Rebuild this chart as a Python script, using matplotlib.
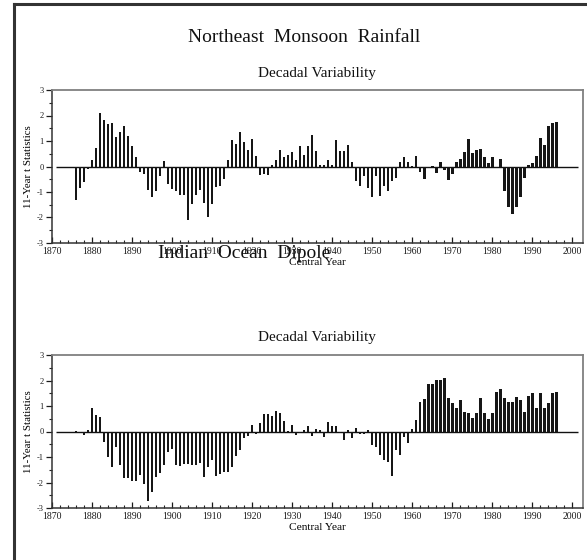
import matplotlib
matplotlib.use("Agg")
import matplotlib.pyplot as plt
from matplotlib.lines import Line2D
import numpy as np

plt.rcParams['font.family'] = ['Liberation Serif', 'DejaVu Serif']
plt.rcParams['axes.unicode_minus'] = False

# 11-year running t statistics, one value per central year (1876-1996)
years = np.arange(1876, 1997)

nem_t = [
    -1.32, -0.86, -0.60, -0.10, 0.24, 0.73, 2.09, 1.83, 1.67, 1.70,
    1.15, 1.37, 1.60, 1.20, 0.81, 0.39, -0.22, -0.31, -0.92, -1.20,
    -0.98, -0.39, 0.22, -0.68, -0.90, -0.97, -1.10, -1.10, -2.09, -1.46,
    -1.10, -0.94, -1.42, -2.00, -1.46, -0.80, -0.77, -0.50, 0.27, 1.02,
    0.88, 1.35, 0.97, 0.64, 1.06, 0.42, -0.34, -0.31, -0.34, 0.04,
    0.24, 0.64, 0.37, 0.46, 0.58, 0.24, 0.80, 0.47, 0.80, 1.23,
    0.60, 0.07, 0.07, 0.27, 0.04, 1.02, 0.60, 0.60, 0.84, 0.18,
    -0.56, -0.75, -0.38, -0.86, -1.20, -0.38, -1.15, -0.75, -0.95, -0.58,
    -0.47, 0.17, 0.37, 0.17, 0.02, 0.43, -0.22, -0.48, -0.05, 0.02,
    -0.25, 0.18, -0.14, -0.54, -0.29, 0.17, 0.30, 0.58, 1.08, 0.52,
    0.63, 0.69, 0.38, 0.12, 0.39, -0.07, 0.31, -0.98, -1.58, -1.88,
    -1.60, -1.20, -0.46, 0.04, 0.14, 0.43, 1.10, 0.86, 1.58, 1.71,
    1.76,
]

iod_t = [
    0.03, -0.02, -0.15, 0.05, 0.93, 0.63, 0.56, -0.43, -1.00, -1.40,
    -0.61, -1.33, -1.81, -1.81, -1.96, -1.96, -1.72, -2.05, -2.74, -2.39,
    -1.79, -1.63, -1.33, -0.81, -0.68, -1.30, -1.34, -1.26, -1.29, -1.30,
    -1.33, -1.24, -1.79, -1.40, -1.11, -1.76, -1.68, -1.59, -1.59, -1.40,
    -0.96, -0.74, -0.25, -0.16, 0.26, -0.09, 0.33, 0.69, 0.68, 0.59,
    0.82, 0.72, 0.40, 0.02, 0.26, -0.12, -0.05, 0.07, 0.20, -0.18,
    0.10, 0.04, -0.20, 0.39, 0.23, 0.20, -0.05, -0.33, 0.04, -0.25,
    0.14, -0.09, -0.09, 0.04, -0.51, -0.61, -0.94, -1.11, -1.19, -1.76,
    -0.74, -0.94, -0.20, -0.46, 0.10, 0.46, 1.17, 1.28, 1.86, 1.86,
    2.03, 2.03, 2.09, 1.32, 1.11, 0.93, 1.25, 0.78, 0.72, 0.52,
    0.72, 1.32, 0.73, 0.48, 0.73, 1.54, 1.67, 1.30, 1.17, 1.15,
    1.37, 1.25, 0.78, 1.38, 1.51, 0.93, 1.50, 0.93, 1.12, 1.50,
    1.56,
]

W, H = 587, 560
fig = plt.figure(figsize=(W / 100, H / 100), dpi=100)
fig.patch.set_facecolor('white')


def px_axes(left, top, right, bottom):
    return fig.add_axes([left / W, 1 - bottom / H, (right - left) / W, (bottom - top) / H])


def panel(ax, vals):
    ax.bar(years, vals, width=0.68, color='#161616', zorder=3)
    ax.hlines(0, 1871, 2001.5, color='#111111', lw=1.0, zorder=2)
    ax.set_xlim(1870, 2002.7)
    ax.set_ylim(-3, 3)
    ax.set_xticks(np.arange(1870, 2001, 10))
    ax.set_xticks(np.arange(1870, 2001, 2), minor=True)
    ax.set_yticks(np.arange(-3, 4, 1))
    ax.set_yticks(np.arange(-3, 3.1, 0.5), minor=True)
    ax.tick_params(axis='x', which='major', direction='in', length=4, width=0.9,
                   labelsize=7, pad=3, colors='#1a1a1a')
    ax.tick_params(axis='x', which='minor', direction='in', length=2, width=0.8,
                   colors='#222222')
    ax.tick_params(axis='y', which='major', direction='out', length=4, width=0.9,
                   labelsize=6, pad=2, colors='#1a1a1a')
    ax.tick_params(axis='y', which='minor', direction='out', length=2, width=0.8,
                   colors='#222222')
    for side in ('top', 'right'):
        ax.spines[side].set_color('#808080')
        ax.spines[side].set_linewidth(1.3)
    for side in ('left', 'bottom'):
        ax.spines[side].set_color('#333333')
        ax.spines[side].set_linewidth(1.1)
    ax.set_ylabel('11-Year t Statistics', fontsize=7.8, labelpad=3)
    ax.set_xlabel('Central Year', fontsize=8.2, labelpad=1)


ax1 = px_axes(52, 90, 583, 243)
panel(ax1, nem_t)
ax2 = px_axes(52, 355, 583, 508)
panel(ax2, iod_t)

fig.text(304 / W, 1 - 37 / H, 'Northeast  Monsoon  Rainfall', fontsize=14,
         ha='center', va='center', color='#111111')
fig.text(317 / W, 1 - 73 / H, 'Decadal Variability', fontsize=11,
         ha='center', va='center', color='#111111')
fig.text(244 / W, 1 - 254 / H, 'Indian  Ocean  Dipole', fontsize=14,
         ha='center', va='center', zorder=10, color='#111111')
fig.text(317 / W, 1 - 337 / H, 'Decadal Variability', fontsize=11,
         ha='center', va='center', color='#111111')

# border along the left and top edges
fig.add_artist(Line2D([14 / W, 14 / W], [0, 1 - 4 / H], transform=fig.transFigure,
                      color='#333333', lw=2.2))
fig.add_artist(Line2D([14 / W, 1], [1 - 4 / H, 1 - 4 / H], transform=fig.transFigure,
                      color='#333333', lw=2.2))

fig.savefig('out.png', dpi=100)
